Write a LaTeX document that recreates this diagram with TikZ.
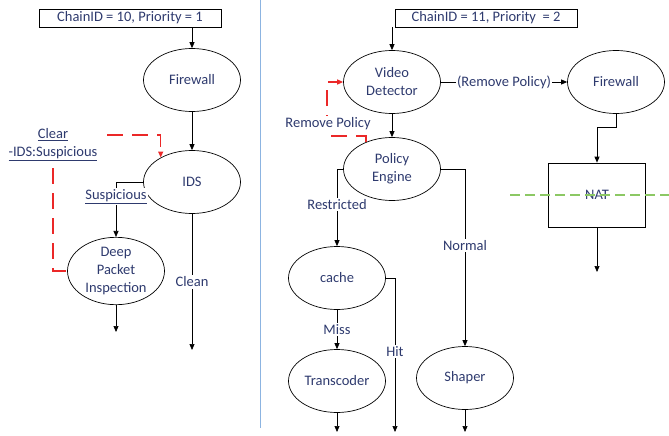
\documentclass[tikz,border=0pt]{standalone}
\usepackage{fontspec}
\setmainfont{Carlito}
\usepackage{tikz}
\usetikzlibrary{shapes.geometric,arrows.meta}
\definecolor{navy}{RGB}{46,58,110}
\definecolor{redline}{RGB}{235,40,40}
\definecolor{bluesep}{RGB}{140,180,225}
\definecolor{greendash}{RGB}{140,200,100}
\tikzset{
  lbl/.style={fill=white,inner sep=1.5pt},
  reddash/.style={draw=redline,line width=1.2pt,dash pattern=on 16pt off 9pt},
}

\begin{document}
\begin{tikzpicture}[x=1pt,y=-1pt,line width=0.7pt,>={Triangle[length=6pt,width=5pt]},
  font=\fontsize{14.5}{18}\selectfont,text=navy]
\useasboundingbox (0,0) rectangle (669,436);

\node[draw,minimum width=182pt,minimum height=18pt,inner sep=0pt] (c10) at (130,18) {ChainID = 10, Priority = 1};
\node[draw,minimum width=182pt,minimum height=18pt,inner sep=0pt] (c11) at (486,18) {ChainID = 11, Priority\ \ = 2};

\begin{scope}[every node/.style={ellipse,draw,minimum width=97pt,minimum height=63pt,inner sep=0pt,align=center}]
    \node (1) at (192,80) {Firewall};
    \node (2) at (192,182) {IDS};
    \node (3) at (116,271) {Deep\\Packet\\Inspection};
    \node (4) at (392,82) {Video\\Detector};
    \node (5) at (392,169) {Policy\\Engine};
    \node (6) at (337,278) {cache};
    \node (7) at (337,381) {Transcoder};
    \node (8) at (465,378) {Shaper};
    \node (9) at (616,82) {Firewall};
\end{scope}
\node[draw,minimum width=97pt,minimum height=64pt] (nat) at (597,195) {NAT};

\coordinate (dpo) at (116,332);
\coordinate (cln) at (192,350);
\coordinate (clr) at (107,135);
\coordinate (sus) at (53,168);
\coordinate (rp) at (327,136);
\coordinate (hit) at (395,432);
\coordinate (tro) at (337,432);
\coordinate (sho) at (465,432);
\coordinate (nto) at (597,272);

% separator
\draw[bluesep,line width=1pt] (260,0) -- (260,428);

% chain 10
\draw[->] (1 |- c10.south) -- (1);
\draw[->] (1) -- (2);
\draw[->] (2.west) -| node[lbl,pos=0.63] {\underline{Suspicious}} (3.north);
\draw[->] (2) -- node[lbl] {Clean} (cln);
\draw[->] (3) -- (dpo);
\draw[reddash,->] (clr) -| (2.142);
\draw[reddash] (sus) |- (3.west);
\node[align=center] (clear) at (53,145) {\underline{Clear}\\\underline{-IDS:Suspicious}};

% chain 11
\draw[->] (4 |- c11.south) -- (4);
\draw[->] (4.east) -- node[lbl] {(Remove Policy)} (9.west);
\draw[->] (4) -- (5);
\draw[reddash,->] (5.134) |- (rp) |- (4.west);
\node[lbl] (rpl) at (328,124) {Remove Policy};
\draw[->] (5.west) -| node[lbl,pos=0.73] {Restricted} (6.north);
\draw[->] (5.east) -| node[lbl,pos=0.715] {Normal} (8.north);
\draw[->] (6.east) -| node[lbl,pos=0.74] {Hit} (hit);
\draw[->] (6) -- node[lbl] {Miss} (7);
\draw[->] (7) -- (tro);
\draw[->] (8) -- (sho);
\draw[->] (9.south) -- ++(0,13) -| (nat.north);
\draw[->] (nat) -- (nto);
\draw[greendash,line width=1.2pt,dash pattern=on 10pt off 5pt] (510,195) -- (669,195);

\end{tikzpicture}
\end{document}
